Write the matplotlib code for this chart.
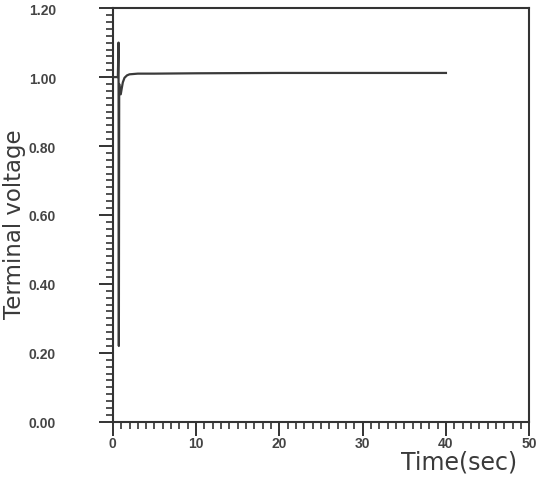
import matplotlib
matplotlib.use("Agg")
import matplotlib.pyplot as plt
from matplotlib.ticker import MultipleLocator

# Data
time_sec = [0.0, 0.60, 0.68, 0.72, 0.76, 0.85, 0.95, 1.05, 1.2, 1.4, 1.7, 2.0, 3.0, 5.0, 10.0, 20.0, 30.0, 40.0]
voltage = [1.00, 1.00, 1.10, 0.22, 0.98, 0.955, 0.95, 0.965, 0.985, 0.998, 1.005, 1.008, 1.01, 1.01, 1.011, 1.012, 1.012, 1.012]

x_ticks = [0, 10, 20, 30, 40, 50]
y_ticks = [0.00, 0.20, 0.40, 0.60, 0.80, 1.00, 1.20]
y_tick_labels = ["0.00", "0.20", "0.40", "0.60", "0.80", "1.00", "1.20"]

plt.rcParams['font.family'] = ['Liberation Sans', 'DejaVu Sans']

fig = plt.figure(figsize=(5.40, 4.81), dpi=100)
ax = fig.add_axes([0.209, 0.121, 0.771, 0.860])

ax.plot(time_sec, voltage, color='#3a3a3a', linewidth=1.6)

ax.set_xlim(0, 50)
ax.set_ylim(0, 1.2)
ax.set_xticks(x_ticks)
ax.set_yticks(y_ticks)
ax.set_yticklabels(y_tick_labels)
ax.xaxis.set_minor_locator(MultipleLocator(1))
ax.yaxis.set_minor_locator(MultipleLocator(0.02))

for s in ax.spines.values():
    s.set_linewidth(1.5)
    s.set_color('#333333')

ax.tick_params(axis='both', which='major', direction='out', length=10, width=1.4, color='#333333',
               labelsize=10, labelcolor='#444444')
ax.tick_params(axis='both', which='minor', direction='out', length=5, width=1.2, color='#333333')
ax.tick_params(axis='y', which='major', pad=31)
ax.tick_params(axis='x', which='major', pad=0)
for lab in ax.get_xticklabels() + ax.get_yticklabels():
    lab.set_fontweight('bold')

ax.set_xlabel("Time(sec)", fontsize=17, color='#3a3a3a', loc='right', family='DejaVu Sans')
ax.xaxis.set_label_coords(0.971, -0.068)
ax.set_ylabel("Terminal voltage", fontsize=16.5, color='#3a3a3a', family='DejaVu Sans', va='center')
ax.yaxis.set_label_coords(-0.236, 0.48)

fig.savefig("out.png", dpi=100)
